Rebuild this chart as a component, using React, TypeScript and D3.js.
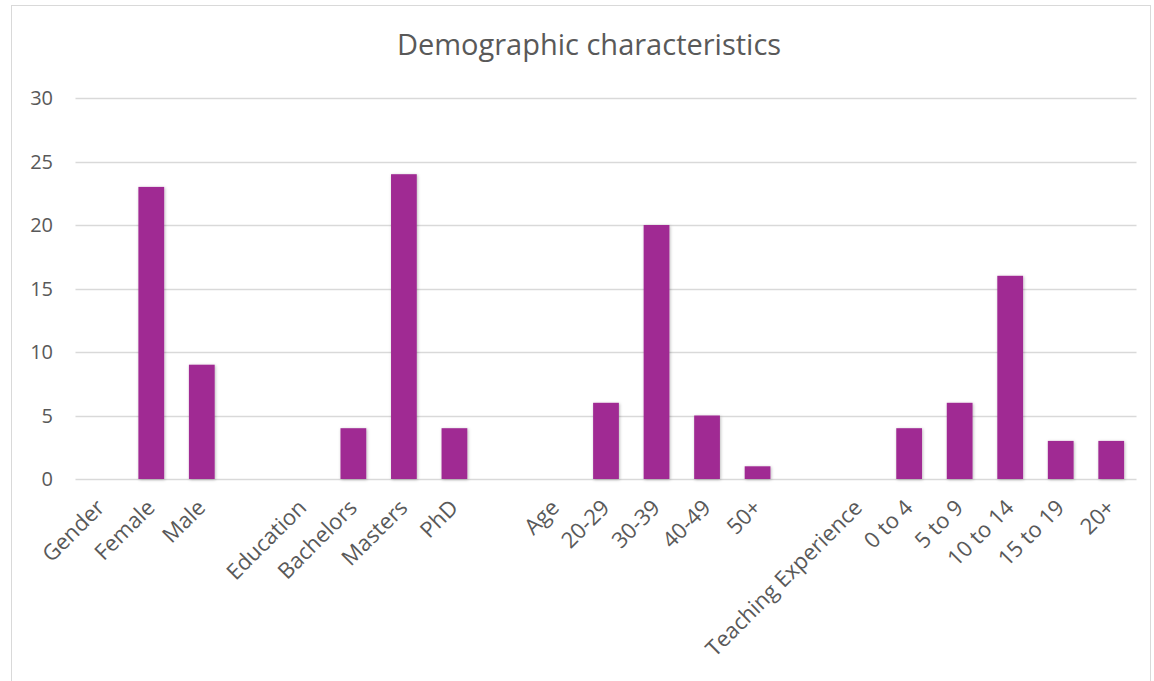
import React, { useEffect, useRef } from "react";
import * as d3 from "d3";

// Category axis: group headers carry no value, blank slots separate the groups
const categories: string[] = [
  "Gender", "Female", "Male", " ",
  "Education", "Bachelors", "Masters", "PhD", "  ",
  "Age", "20-29", "30-39", "40-49", "50+", "   ",
  "Teaching Experience", "0 to 4", "5 to 9", "10 to 14", "15 to 19", "20+",
];
const counts: (number | null)[] = [
  null, 23, 9, null,
  null, 4, 24, 4, null,
  null, 6, 20, 5, 1, null,
  null, 4, 6, 16, 3, 3,
];
const yTicks: number[] = [0, 5, 10, 15, 20, 25, 30];
const title = "Demographic characteristics";

const W = 1154;
const H = 681;
const FONT = "'Open Sans', 'Liberation Sans', sans-serif";

export default function App() {
  const ref = useRef<SVGSVGElement | null>(null);

  useEffect(() => {
    const svg = d3.select(ref.current);
    svg.selectAll("*").remove();

    const defs = svg.append("defs");
    const f = defs.append("filter").attr("id", "barShadow")
      .attr("x", "-30%").attr("y", "-10%").attr("width", "160%").attr("height", "120%");
    f.append("feDropShadow").attr("dx", 0.8).attr("dy", 0.8)
      .attr("stdDeviation", 1.6).attr("flood-color", "#000").attr("flood-opacity", 0.28);

    // chart area frame
    svg.append("rect").attr("x", 11.5).attr("y", 5.5).attr("width", 1139).attr("height", 700)
      .attr("fill", "#fff").attr("stroke", "#d9d9d9").attr("stroke-width", 1);

    const x = d3.scaleBand<string>().domain(categories).range([75.5, 1136.5])
      .paddingInner(0.49).paddingOuter(0.245);
    const y = d3.scaleLinear().domain([0, 30]).range([479, 98]);

    // gridlines
    svg.append("g").selectAll("line").data(yTicks).join("line")
      .attr("x1", 75.5).attr("x2", 1136.5)
      .attr("y1", (d) => Math.round(y(d)) + 0.5).attr("y2", (d) => Math.round(y(d)) + 0.5)
      .attr("stroke", "#d9d9d9").attr("stroke-width", 1.3);

    // y tick labels
    svg.append("g").selectAll("text").data(yTicks).join("text")
      .attr("x", 53).attr("y", (d) => y(d)).attr("dy", "0.36em")
      .attr("text-anchor", "end").attr("font-family", FONT).attr("font-size", 20)
      .attr("fill", "#595959").text((d) => String(d));

    // bars
    const data = categories.map((c, i) => ({ c, v: counts[i] }));
    svg.append("g").attr("filter", "url(#barShadow)").selectAll("rect")
      .data(data.filter((d) => d.v !== null && (d.v as number) > 0)).join("rect")
      .attr("x", (d) => x(d.c)!).attr("width", x.bandwidth())
      .attr("y", (d) => y(d.v as number)).attr("height", (d) => y(0) - y(d.v as number))
      .attr("fill", "#a02b93");

    // rotated category labels
    svg.append("g").selectAll("text").data(categories).join("text")
      .attr("transform", (c) => `translate(${x(c)! + x.bandwidth() / 2 + 5},${509}) rotate(-45)`)
      .attr("text-anchor", "end").attr("font-family", FONT).attr("font-size", 22)
      .attr("fill", "#595959").text((c) => c.trim());

    // title
    svg.append("text").attr("x", 589).attr("y", 55).attr("text-anchor", "middle")
      .attr("font-family", FONT).attr("font-size", 29).attr("fill", "#595959").text(title);
  }, []);

  return (
    <svg ref={ref} width={W} height={H}
      style={{ position: "absolute", left: 0, top: 0, display: "block", background: "#fff" }} />
  );
}
